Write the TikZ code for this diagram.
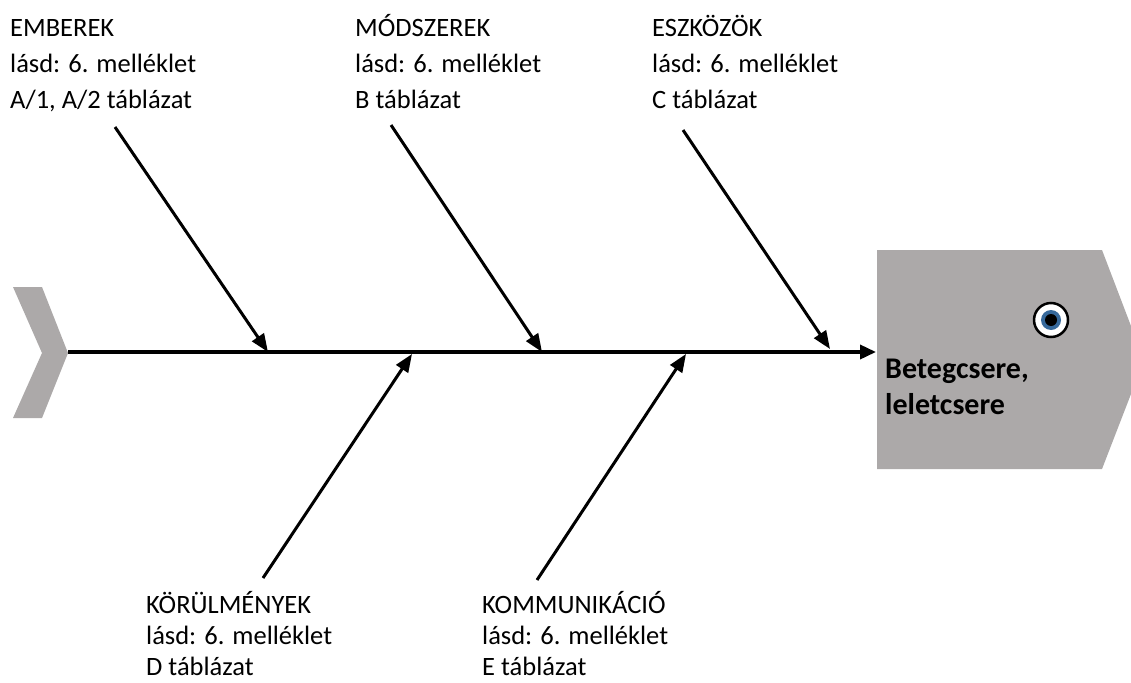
\documentclass[tikz,border=0pt]{standalone}
\usepackage{fontspec}
\setmainfont{Carlito}
\usetikzlibrary{arrows.meta}
\definecolor{fishgray}{RGB}{172,169,169}
\definecolor{irisblue}{RGB}{55,105,155}
\tikzset{
  spine/.style={line width=3.5pt, -{Triangle[length=16pt,width=14pt]}},
  bone/.style={line width=3pt, -{Triangle[length=18pt,width=14pt]}},
  cause/.style={anchor=north west, align=left, inner sep=0pt, font=\fontsize{26.5}{36}\selectfont},
  lowcause/.style={cause, font=\fontsize{26.5}{31}\selectfont},
  effect/.style={anchor=north west, align=left, inner sep=0pt, font=\bfseries\fontsize{30}{36}\selectfont},
}
\begin{document}
\begin{tikzpicture}[x=1pt,y=-1pt]
    \useasboundingbox (0,0) rectangle (1131,682);
    \fill[fishgray] (13,287) -- (42,287) -- (68,353) -- (42,418) -- (13,418) -- (42,353) -- cycle;
    \fill[fishgray] (877,250) -- (1102,250) -- (1131,326) -- (1131,394) -- (1102,469) -- (877,469) -- cycle;
    \coordinate (tail) at (68,352);
    \coordinate (mouth) at (876,352);
    \node[effect] (effect) at (885,353) {\strut Betegcsere,\\leletcsere};
    \node[circle, draw, line width=2.5pt, fill=white, minimum size=34pt, inner sep=0pt] (eye) at (1051,320) {};
    \fill[irisblue] (eye) circle (10);
    \fill[black] (eye) circle (6);

    \node[cause] (emberek) at (10,11) {\strut EMBEREK\\lásd: 6. melléklet\\A/1, A/2 táblázat};
    \node[cause] (modszerek) at (355,11) {\strut MÓDSZEREK\\lásd: 6. melléklet\\B táblázat};
    \node[cause] (eszkozok) at (652,11) {\strut ESZKÖZÖK\\lásd: 6. melléklet\\C táblázat};
    \node[lowcause] (korulmenyek) at (146,591) {\strut KÖRÜLMÉNYEK\\lásd: 6. melléklet\\D táblázat};
    \node[lowcause] (kommunikacio) at (482,591) {\strut KOMMUNIKÁCIÓ\\lásd: 6. melléklet\\E táblázat};

    \coordinate (emb) at (115,127);
    \coordinate (mod) at (391,125);
    \coordinate (esz) at (683,130);
    \coordinate (kor) at (263,578);
    \coordinate (kom) at (537,580);
    \coordinate (emb-on) at (268,352);
    \coordinate (mod-on) at (542,352);
    \coordinate (esz-on) at (830,349);
    \coordinate (kor-on) at (412,354);
    \coordinate (kom-on) at (686,354);

    \draw[spine] (tail) -- (mouth);
    \draw[bone] (emb) -- (emb-on);
    \draw[bone] (mod) -- (mod-on);
    \draw[bone] (esz) -- (esz-on);
    \draw[bone] (kor) -- (kor-on);
    \draw[bone] (kom) -- (kom-on);
\end{tikzpicture}
\end{document}
